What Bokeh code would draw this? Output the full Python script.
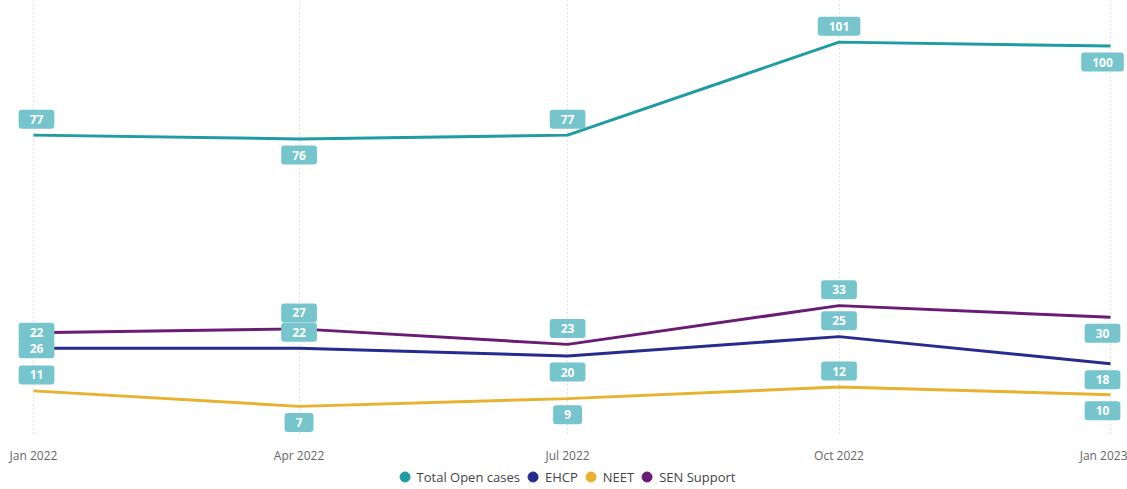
import pandas as pd
from bokeh.plotting import figure
from bokeh.models import Range1d, FixedTicker, DatetimeTickFormatter, Legend, LegendItem, ColumnDataSource
from bokeh.core.properties import value
from bokeh.embed import file_html
from bokeh.resources import INLINE

# ---------------- data ----------------
dates = ["2022-01-01", "2022-04-01", "2022-07-01", "2022-10-01", "2023-01-01"]
total_open_cases = [77, 76, 77, 101, 100]
ehcp = [22, 22, 20, 25, 18]
neet = [11, 7, 9, 12, 10]
sen_support = [26, 27, 23, 33, 30]

series_names = ["Total Open cases", "EHCP", "NEET", "SEN Support"]
series_values = [total_open_cases, ehcp, neet, sen_support]

# ---------------- style / layout ----------------
series_colors = ["#1e9ba3", "#262b8f", "#e8b12e", "#6a1b74"]
# data-label placement as in the original: 1 = above point, -1 = below point
label_sides = [[1, -1, 1, 1, -1],
               [1, 1, -1, 1, -1],
               [1, -1, -1, 1, -1],
               [-1, 1, 1, 1, -1]]
label_dx = [3, 0, 0, 0, -8]
LABEL_GAP = 16

W, H = 1127, 489
X0_PX, X1_PX = 33, 1110
ZERO_PX = 433
PX_PER_UNIT = 3.875
FONT = "Open Sans"

x = pd.to_datetime(dates)
t_ms = [ts.value / 1e6 for ts in x]
mpp = (t_ms[-1] - t_ms[0]) / (X1_PX - X0_PX)
x_range = Range1d(t_ms[0] - X0_PX * mpp, t_ms[-1] + (W - X1_PX) * mpp)
y_top = ZERO_PX / PX_PER_UNIT
y_range = Range1d(-(H - ZERO_PX) / PX_PER_UNIT, y_top)

p = figure(width=W, height=H, x_axis_type="datetime", y_axis_location=None,
           x_range=x_range, y_range=y_range, output_backend="svg",
           toolbar_location=None, min_border=0)
p.min_border_left = p.min_border_right = p.min_border_top = p.min_border_bottom = 0
p.outline_line_color = None
p.background_fill_color = "white"
p.border_fill_color = "white"

ticker = FixedTicker(ticks=t_ms)
ax = p.xaxis[0]
ax.ticker = ticker
ax.formatter = DatetimeTickFormatter(days="%b %Y", months="%b %Y", years="%b %Y")
ax.fixed_location = 0
ax.axis_line_color = None
ax.major_tick_line_color = None
ax.minor_tick_line_color = None
ax.major_label_standoff = 7
ax.major_label_text_font = FONT
ax.major_label_text_font_size = "12px"
ax.major_label_text_color = "#666666"

p.ygrid.visible = False
p.xgrid.ticker = ticker
p.xgrid.grid_line_color = "#c4c4c4"
p.xgrid.grid_line_dash = "1 3"
p.xgrid.cross_bounds = (0, y_top)

for vals, col in zip(series_values, series_colors):
    p.line(x=x, y=vals, line_color=col, line_width=3)

lx, ly, lt, lxo, lyo = [], [], [], [], []
for vals, sides in zip(series_values, label_sides):
    for i, v in enumerate(vals):
        lx.append(x[i])
        ly.append(v)
        lt.append(str(v))
        lxo.append(label_dx[i])
        lyo.append(-sides[i] * LABEL_GAP)
src = ColumnDataSource(dict(x=lx, y=ly, text=lt, xo=lxo, yo=lyo))
p.text(x="x", y="y", text="text", x_offset="xo", y_offset="yo", source=src,
       text_align="center", text_baseline="middle", text_color="white",
       text_font=value(FONT), text_font_style="bold", text_font_size="12px",
       background_fill_color="#76c5cc", padding=(11, 5), border_radius=3)

# legend swatches: circle markers on the series points, hidden from the plot area
items = []
for name, vals, col in zip(series_names, series_values, series_colors):
    r = p.scatter(x=x, y=vals, marker="circle", size=10, fill_color=col, line_color=col)
    r.visible = False
    items.append(LegendItem(label=name, renderers=[r]))
legend = Legend(items=items, orientation="horizontal", location="bottom_center",
                glyph_width=25, glyph_height=25, label_standoff=0, spacing=-3,
                padding=0, margin=0, border_line_color=None, background_fill_alpha=0,
                inactive_fill_alpha=0,
                label_text_font=FONT, label_text_font_size="13px",
                label_text_color="#444444")
p.add_layout(legend)

open("out.html", "w").write(file_html(p, INLINE))
